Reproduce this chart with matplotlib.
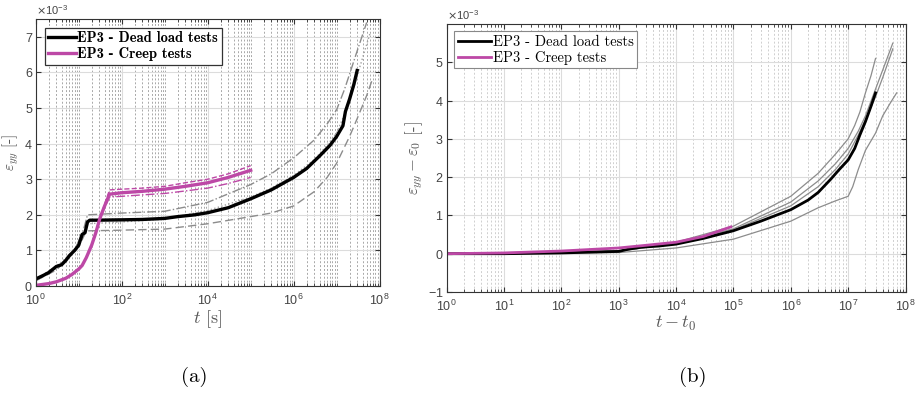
import matplotlib
matplotlib.use("Agg")
import matplotlib.pyplot as plt
import numpy as np
from matplotlib.ticker import LogLocator, NullFormatter

# ---- data (strain values in units of 1e-3) ----
# (a) epsilon_yy vs t
dl_t = [1, 1.5, 2, 3, 4, 5, 6, 8, 10, 12, 14, 16, 18, 25, 100, 300, 1000, 2000, 5000, 1e4,
        3e4, 1e5, 3e5, 1e6, 2e6, 4e6, 7e6, 1e7, 1.4e7, 1.6e7, 2e7, 2.5e7, 3e7]
dl_y = [0.2, 0.3, 0.38, 0.55, 0.6, 0.72, 0.85, 1.0, 1.15, 1.45, 1.5, 1.8, 1.85, 1.85, 1.86, 1.87, 1.9,
        1.95, 2.0, 2.06, 2.2, 2.45, 2.7, 3.05, 3.3, 3.65, 3.95, 4.2, 4.5, 4.9, 5.25, 5.65, 6.05]

gu_t = [1, 3, 8, 13, 16, 100, 1000, 1e4, 1e5, 3e5, 1e6, 3e6, 6e6, 1e7, 1.5e7, 2e7, 3e7, 5e7]
gu_y = [0.15, 0.5, 1.0, 1.6, 2.0, 2.05, 2.1, 2.35, 2.85, 3.15, 3.6, 4.1, 4.55, 4.95, 5.5, 5.95, 6.6, 7.4]

gm_t = [1, 3, 8, 13, 16, 100, 1000, 1e4, 1e5, 3e5, 1e6, 3e6, 6e6, 1e7, 1.5e7, 2e7, 3e7, 4e7, 6e7]
gm_y = [0.2, 0.55, 1.0, 1.45, 1.75, 1.8, 1.88, 2.12, 2.5, 2.75, 3.1, 3.55, 3.95, 4.3, 4.8, 5.2, 5.9, 6.4, 7.1]

gl_t = [1, 3, 8, 12, 15, 100, 1000, 1e4, 1e5, 3e5, 1e6, 3e6, 6e6, 1e7, 2e7, 3e7, 5e7, 7e7]
gl_y = [0.15, 0.45, 0.95, 1.3, 1.55, 1.57, 1.6, 1.75, 1.95, 2.05, 2.25, 2.65, 3.05, 3.45, 4.2,
        4.7, 5.35, 5.85]

cr_t = [1, 2, 3, 5, 7, 10, 12, 15, 20, 25, 31, 40, 52, 100, 300, 1000, 3000, 1e4, 3e4, 1e5]
cr_y = [0.02, 0.07, 0.12, 0.22, 0.33, 0.48, 0.58, 0.8, 1.15, 1.5, 1.9, 2.25, 2.58, 2.62, 2.66,
        2.72, 2.8, 2.9, 3.05, 3.25]
cr_up_y = [0.02, 0.07, 0.12, 0.22, 0.33, 0.48, 0.58, 0.8, 1.15, 1.5, 1.9, 2.3, 2.7, 2.72, 2.75,
           2.8, 2.9, 3.0, 3.15, 3.38]
cr_lo_y = [0.02, 0.07, 0.12, 0.22, 0.33, 0.48, 0.58, 0.8, 1.15, 1.5, 1.9, 2.2, 2.5, 2.52, 2.56,
           2.6, 2.67, 2.75, 2.88, 3.05]

# (b) epsilon_yy - epsilon_0 vs t - t0
rb_t = [1, 10, 100, 1000, 1500, 2500, 5000, 1e4, 3e4, 1e5, 3e5, 1e6, 2e6, 3e6, 5e6, 7e6, 1e7,
        1.3e7, 1.6e7, 2e7, 2.5e7, 3e7]
rb_y = [0, 0.0, 0.02, 0.06, 0.12, 0.17, 0.2, 0.25, 0.4, 0.6, 0.85, 1.15, 1.4, 1.6, 1.95, 2.2, 2.45,
        2.75, 3.1, 3.45, 3.85, 4.2]

rm_t = [1, 10, 100, 1000, 3000, 1e4, 3e4, 9e4]
rm_y = [0, 0.02, 0.07, 0.15, 0.22, 0.3, 0.45, 0.7]

rg1_t = [1, 1000, 1e4, 1e5, 1e6, 3e6, 6e6, 1e7, 1.3e7, 1.6e7, 2e7, 2.5e7, 3e7]
rg1_y = [0, 0.08, 0.3, 0.72, 1.5, 2.1, 2.6, 3.0, 3.35, 3.7, 4.2, 4.65, 5.1]
rg2_t = [1, 1000, 1e4, 1e5, 1e6, 3e6, 6e6, 1e7, 1.5e7, 2e7, 3e7, 4.5e7, 6e7]
rg2_y = [0, 0.07, 0.27, 0.65, 1.35, 1.9, 2.35, 2.75, 3.2, 3.6, 4.3, 5.0, 5.5]
rg3_t = [1, 1000, 1e4, 1e5, 1e6, 3e6, 6e6, 1e7, 1.5e7, 2e7, 3e7, 4e7, 6e7]
rg3_y = [0, 0.06, 0.28, 0.62, 1.25, 1.75, 2.2, 2.6, 3.1, 3.5, 4.1, 4.6, 5.35]
rg4_t = [1, 1000, 1e4, 1e5, 1e6, 3e6, 6e6, 1e7, 1.2e7, 1.5e7, 2e7, 3e7, 4e7, 5.5e7, 7e7]
rg4_y = [0, 0.03, 0.15, 0.38, 0.85, 1.2, 1.38, 1.5, 1.75, 2.2, 2.7, 3.15, 3.6, 3.95, 4.2]

MAG = '#bd48a6'
GRAY = '#8c8c8c'
e = 1e-3

plt.rcParams['font.family'] = ['Liberation Sans', 'DejaVu Sans']
plt.rcParams['mathtext.fontset'] = 'cm'

fig = plt.figure(figsize=(9.17, 3.93), dpi=100)
ax1 = fig.add_axes([0.039, 0.272, 0.375, 0.68])
ax2 = fig.add_axes([0.487, 0.257, 0.5005, 0.682])

# panel (a)
ax1.plot(gu_t, np.array(gu_y) * e, color=GRAY, lw=1.0, ls='-.')
ax1.plot(gm_t, np.array(gm_y) * e, color='#a0a0a0', lw=1.0, ls=':')
ax1.plot(gl_t, np.array(gl_y) * e, color=GRAY, lw=1.0, ls=(0, (6, 3)))
ax1.plot(dl_t, np.array(dl_y) * e, color='black', lw=2.4, label='EP3 - Dead load tests')
ax1.plot(cr_t, np.array(cr_up_y) * e, color=MAG, lw=1.0, ls='--')
ax1.plot(cr_t, np.array(cr_lo_y) * e, color=MAG, lw=1.0, ls='-.')
ax1.plot(cr_t, np.array(cr_y) * e, color=MAG, lw=2.4, label='EP3 - Creep tests')

ax1.set_xscale('log')
ax1.set_xlim(1, 1e8)
ax1.set_ylim(0, 7.5e-3)
ax1.set_xticks([1, 1e2, 1e4, 1e6, 1e8])
ax1.set_yticks(np.arange(0, 8) * e)

# panel (b)
for tt, yy in [(rg1_t, rg1_y), (rg2_t, rg2_y), (rg3_t, rg3_y), (rg4_t, rg4_y)]:
    ax2.plot(tt, np.array(yy) * e, color=GRAY, lw=0.9)
ax2.plot(rb_t, np.array(rb_y) * e, color='black', lw=2.0, label='EP3 - Dead load tests')
ax2.plot(rm_t, np.array(rm_y) * e, color=MAG, lw=2.0, label='EP3 - Creep tests')

ax2.set_xscale('log')
ax2.set_xlim(1, 1e8)
ax2.set_ylim(-1e-3, 6e-3)
ax2.set_xticks([10.0 ** k for k in range(9)])
ax2.set_yticks(np.arange(-1, 6) * e)

for ax, mcol in [(ax1, '#a8a8a8'), (ax2, '#cfcfcf')]:
    ax.xaxis.set_minor_locator(LogLocator(base=10, subs=np.arange(1, 10), numticks=100))
    ax.xaxis.set_minor_formatter(NullFormatter())
    ax.ticklabel_format(axis='y', style='sci', scilimits=(-3, -3), useMathText=True)
    ax.yaxis.get_offset_text().set_math_fontfamily('dejavusans')
    ax.yaxis.get_offset_text().set_fontsize(8)
    ax.yaxis.get_offset_text().set_color('#555555')
    ax.grid(True, which='major', color='#dcdcdc', lw=0.8, ls='-')
    ax.grid(True, which='minor', axis='x', color=mcol, lw=0.7, ls=(0, (2, 2)))
    ax.set_axisbelow(True)
    ax.tick_params(which='both', direction='in', top=True, right=True,
                   labelsize=9, labelcolor='#444444', color='#333333')
    ax.tick_params(which='major', length=3.5)
    ax.tick_params(which='minor', length=2)
    ax.tick_params(axis='x', pad=5)
    ax.tick_params(axis='y', pad=2)
    for s in ax.spines.values():
        s.set_color('#333333')
        s.set_linewidth(0.8)

ax1.set_xlabel(r'$t$ [s]', fontfamily='cmr10', fontsize=13, color='#555555', labelpad=0)
ax1.set_ylabel(r'$\varepsilon_{yy}$ [-]', fontfamily='cmr10', fontsize=11, color='#555555')
ax2.set_xlabel(r'$t - t_0$', fontsize=13, color='#555555', labelpad=0)
ax2.set_ylabel(r'$\varepsilon_{yy} - \varepsilon_0$ [-]', fontfamily='cmr10', fontsize=12,
               color='#555555', labelpad=2)
ax1.yaxis.set_label_coords(-0.042, 0.5)

leg1 = ax1.legend(loc='upper left', prop={'family': 'cmb10', 'size': 10.5}, handlelength=1.9,
                  handletextpad=0.1, borderpad=0.25, labelspacing=0.15, fancybox=False,
                  framealpha=1, edgecolor='#333333', borderaxespad=0.6)
leg1.get_frame().set_linewidth(0.9)
leg2 = ax2.legend(loc='upper left', prop={'family': 'cmr10', 'size': 10.5}, handlelength=2.3,
                  handletextpad=0.1, borderpad=0.25, labelspacing=0.15, fancybox=False,
                  framealpha=1, edgecolor='#888888', borderaxespad=0.5)
leg2.get_frame().set_linewidth(0.8)

fig.text(0.212, 0.04, '(a)', fontfamily='cmr10', fontsize=15, ha='center', va='center')
fig.text(0.755, 0.04, '(b)', fontfamily='cmr10', fontsize=15, ha='center', va='center')

fig.savefig('out.png', dpi=100)
